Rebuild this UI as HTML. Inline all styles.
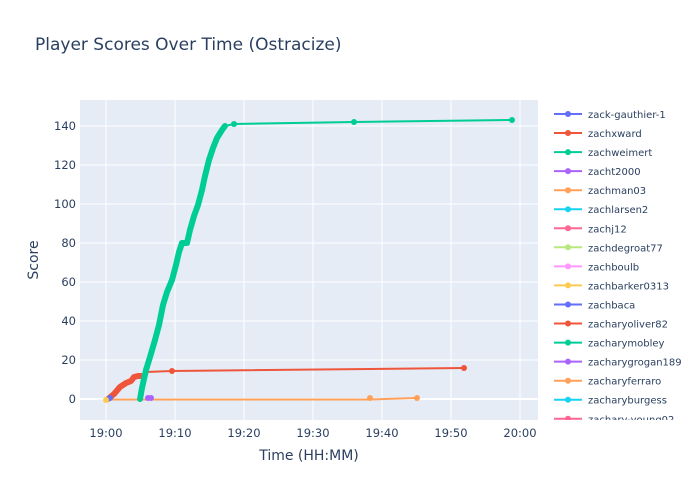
<!DOCTYPE html>
<html><head><meta charset="utf-8"><style>
body{margin:0;background:#fff;font-family:"DejaVu Sans",sans-serif}
</style></head><body>
<svg width="700" height="500" xmlns="http://www.w3.org/2000/svg" font-family="DejaVu Sans, sans-serif">
<rect width="700" height="500" fill="#fff"/>
<text x="35" y="50" font-size="17" fill="#2a3f5f">Player Scores Over Time (Ostracize)</text>
<rect x="80" y="100" width="458" height="320" fill="#e5ecf6"/>
<g stroke="#fff" stroke-width="1">
<line x1="80" x2="538" y1="360" y2="360"/><line x1="80" x2="538" y1="321" y2="321"/><line x1="80" x2="538" y1="282" y2="282"/><line x1="80" x2="538" y1="243" y2="243"/><line x1="80" x2="538" y1="204" y2="204"/><line x1="80" x2="538" y1="165" y2="165"/><line x1="80" x2="538" y1="126" y2="126"/>
<line x1="106" x2="106" y1="100" y2="420"/><line x1="175" x2="175" y1="100" y2="420"/><line x1="244" x2="244" y1="100" y2="420"/><line x1="313" x2="313" y1="100" y2="420"/><line x1="382" x2="382" y1="100" y2="420"/><line x1="451" x2="451" y1="100" y2="420"/><line x1="520" x2="520" y1="100" y2="420"/>
<line x1="80" x2="538" y1="399" y2="399" stroke-width="2"/>
</g>
<g font-size="11.5" fill="#2a3f5f" text-anchor="end">
<text x="76" y="403">0</text><text x="76" y="364">20</text><text x="76" y="325">40</text><text x="76" y="286">60</text><text x="76" y="247">80</text><text x="76" y="208">100</text><text x="76" y="169">120</text><text x="76" y="130">140</text>
</g>
<g font-size="11.5" fill="#2a3f5f" text-anchor="middle">
<text x="106" y="437">19:00</text><text x="175" y="437">19:10</text><text x="244" y="437">19:20</text><text x="313" y="437">19:30</text><text x="382" y="437">19:40</text><text x="451" y="437">19:50</text><text x="520" y="437">20:00</text>
</g>
<text x="309" y="460" font-size="14" fill="#2a3f5f" text-anchor="middle">Time (HH:MM)</text>
<text transform="translate(38,260) rotate(-90)" font-size="14" fill="#2a3f5f" text-anchor="middle">Score</text>
<polyline points="106,399.5 370,399.5 417,398" fill="none" stroke="#ffa15a" stroke-width="2"/>
<circle cx="370" cy="398" r="3" fill="#ffa15a"/><circle cx="417" cy="398" r="3" fill="#ffa15a"/>
<polyline points="108,399 114,394 120,387 126,383 131,381 134,377 138,376 141,376 143,375 146,372 172,371 464,368" fill="none" stroke="#ef553b" stroke-width="2"/>
<polyline points="108,399 114,394 120,387 126,383 131,381 134,377 138,376 141,376" fill="none" stroke="#ef553b" stroke-width="6" stroke-linecap="round" stroke-linejoin="round"/>
<circle cx="172" cy="371" r="3" fill="#ef553b"/><circle cx="464" cy="368" r="3" fill="#ef553b"/>
<polyline points="140,399 142,388 146,370 150,357 155,340 159,325 163,305 167,292 172,280 176,265 179,252 182,243 187,243 190,230 194,216 198,205 202,190 205,176 209,160 213,148 217,138 222,130 225,126" fill="none" stroke="#00cc96" stroke-width="6" stroke-linecap="round" stroke-linejoin="round"/>
<polyline points="225,126 234,124 354,122 512,120" fill="none" stroke="#00cc96" stroke-width="2"/>
<circle cx="234" cy="124" r="3" fill="#00cc96"/><circle cx="354" cy="122" r="3" fill="#00cc96"/><circle cx="512" cy="120" r="3" fill="#00cc96"/>
<circle cx="148" cy="398" r="3" fill="#ab63fa"/><circle cx="151" cy="398" r="3" fill="#ab63fa"/>
<circle cx="110" cy="398" r="3" fill="#636efa"/>
<circle cx="106" cy="400" r="3" fill="#fecb52"/>
<g font-size="10" fill="#2a3f5f">
<g transform="translate(0,114)"><line x1="554" x2="582" stroke="#636efa" stroke-width="2"/><circle cx="568" r="3" fill="#636efa"/><text x="588" y="4">zack-gauthier-1</text></g>
<g transform="translate(0,133)"><line x1="554" x2="582" stroke="#ef553b" stroke-width="2"/><circle cx="568" r="3" fill="#ef553b"/><text x="588" y="4">zachxward</text></g>
<g transform="translate(0,152.1)"><line x1="554" x2="582" stroke="#00cc96" stroke-width="2"/><circle cx="568" r="3" fill="#00cc96"/><text x="588" y="4">zachweimert</text></g>
<g transform="translate(0,171.1)"><line x1="554" x2="582" stroke="#ab63fa" stroke-width="2"/><circle cx="568" r="3" fill="#ab63fa"/><text x="588" y="4">zacht2000</text></g>
<g transform="translate(0,190.2)"><line x1="554" x2="582" stroke="#ffa15a" stroke-width="2"/><circle cx="568" r="3" fill="#ffa15a"/><text x="588" y="4">zachman03</text></g>
<g transform="translate(0,209.2)"><line x1="554" x2="582" stroke="#19d3f3" stroke-width="2"/><circle cx="568" r="3" fill="#19d3f3"/><text x="588" y="4">zachlarsen2</text></g>
<g transform="translate(0,228.3)"><line x1="554" x2="582" stroke="#ff6692" stroke-width="2"/><circle cx="568" r="3" fill="#ff6692"/><text x="588" y="4">zachj12</text></g>
<g transform="translate(0,247.3)"><line x1="554" x2="582" stroke="#b6e880" stroke-width="2"/><circle cx="568" r="3" fill="#b6e880"/><text x="588" y="4">zachdegroat77</text></g>
<g transform="translate(0,266.4)"><line x1="554" x2="582" stroke="#ff97ff" stroke-width="2"/><circle cx="568" r="3" fill="#ff97ff"/><text x="588" y="4">zachboulb</text></g>
<g transform="translate(0,285.4)"><line x1="554" x2="582" stroke="#fecb52" stroke-width="2"/><circle cx="568" r="3" fill="#fecb52"/><text x="588" y="4">zachbarker0313</text></g>
<g transform="translate(0,304.5)"><line x1="554" x2="582" stroke="#636efa" stroke-width="2"/><circle cx="568" r="3" fill="#636efa"/><text x="588" y="4">zachbaca</text></g>
<g transform="translate(0,323.5)"><line x1="554" x2="582" stroke="#ef553b" stroke-width="2"/><circle cx="568" r="3" fill="#ef553b"/><text x="588" y="4">zacharyoliver82</text></g>
<g transform="translate(0,342.6)"><line x1="554" x2="582" stroke="#00cc96" stroke-width="2"/><circle cx="568" r="3" fill="#00cc96"/><text x="588" y="4">zacharymobley</text></g>
<g transform="translate(0,361.6)"><line x1="554" x2="582" stroke="#ab63fa" stroke-width="2"/><circle cx="568" r="3" fill="#ab63fa"/><text x="588" y="4">zacharygrogan189</text></g>
<g transform="translate(0,380.7)"><line x1="554" x2="582" stroke="#ffa15a" stroke-width="2"/><circle cx="568" r="3" fill="#ffa15a"/><text x="588" y="4">zacharyferraro</text></g>
<g transform="translate(0,399.7)"><line x1="554" x2="582" stroke="#19d3f3" stroke-width="2"/><circle cx="568" r="3" fill="#19d3f3"/><text x="588" y="4">zacharyburgess</text></g>
</g>
<svg x="545" y="410" width="155" height="10" overflow="hidden"><g font-size="10" fill="#2a3f5f"><line x1="9" x2="37" y1="8.8" y2="8.8" stroke="#ff6692" stroke-width="2"/><circle cx="23" cy="8.8" r="3" fill="#ff6692"/><text x="43" y="12.8">zachary-young02</text></g></svg>
</svg>
</body></html>
